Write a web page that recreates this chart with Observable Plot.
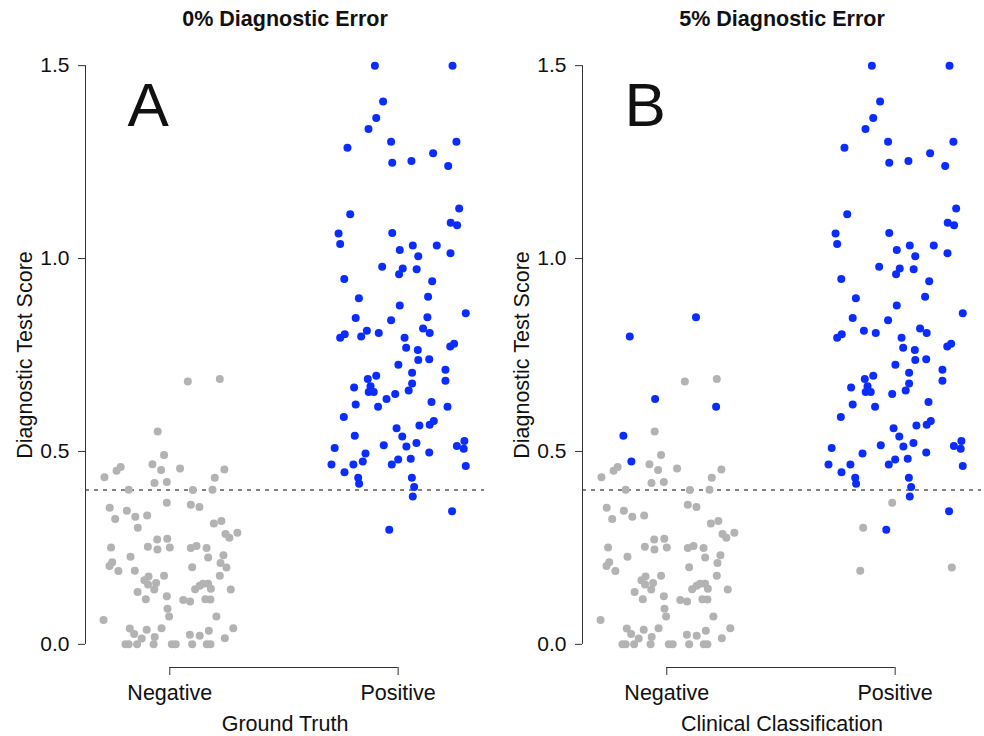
<!DOCTYPE html>
<html>
<head>
<meta charset="utf-8">
<script src="https://cdn.jsdelivr.net/npm/d3@7"></script>
<script src="https://cdn.jsdelivr.net/npm/@observablehq/plot@0.6"></script>
<style>
  body { margin: 0; background: #fff; }
  #wrap { position: relative; width: 984px; height: 736px; overflow: hidden; }
  .panel { position: absolute; top: 0; }
</style>
</head>
<body>
<div id="wrap"></div>
<script>
// ---- labels ----
const categories = ["Negative", "Positive"];
const panelTitles = ["0% Diagnostic Error", "5% Diagnostic Error"];
const panelLetters = ["A", "B"];
const xTitles = ["Ground Truth", "Clinical Classification"];
const yTitle = "Diagnostic Test Score";
const yTicks = [0, 0.5, 1.0, 1.5];
const threshold = 0.4;

// ---- ground-truth negatives: horizontal jitter (category units) and score ----
const negJitter = [0.079,0.219,-0.053,-0.025,-0.076,-0.038,0.045,0.239,-0.215,-0.233,
  -0.286,-0.067,-0.013,0.197,-0.180,0.101,0.187,-0.013,-0.263,-0.188,
  -0.151,-0.099,0.092,0.130,-0.239,-0.140,0.193,0.226,0.244,0.261,
  0.296,-0.055,-0.011,-0.257,-0.096,-0.054,0.000,0.092,0.117,0.161,
  -0.172,0.235,-0.252,-0.264,-0.225,-0.153,0.098,0.168,0.222,0.248,
  -0.025,-0.093,-0.111,-0.095,-0.060,-0.068,0.219,-0.141,-0.105,-0.013,
  0.059,0.089,0.111,0.131,0.146,0.168,0.180,0.156,0.178,0.267,
  -0.010,-0.003,-0.290,0.204,-0.175,-0.156,-0.101,-0.036,-0.123,-0.066,
  0.088,0.131,0.171,0.278,0.241,-0.194,-0.180,-0.143,-0.071,0.009,
  0.026,0.098,0.162,0.178];
const negScore = [0.681,0.688,0.552,0.491,0.467,0.452,0.456,0.453,0.460,0.450,
  0.433,0.418,0.421,0.432,0.401,0.400,0.401,0.367,0.354,0.346,
  0.331,0.334,0.362,0.356,0.325,0.302,0.313,0.320,0.286,0.276,
  0.289,0.272,0.274,0.251,0.253,0.246,0.251,0.250,0.255,0.250,
  0.227,0.231,0.213,0.203,0.190,0.191,0.200,0.225,0.211,0.199,
  0.178,0.176,0.166,0.155,0.159,0.142,0.178,0.136,0.117,0.125,
  0.115,0.111,0.143,0.152,0.157,0.157,0.144,0.117,0.116,0.142,
  0.092,0.072,0.063,0.072,0.041,0.027,0.038,0.042,0.015,0.019,
  0.025,0.022,0.035,0.042,0.016,0,0,0,0,0,
  0,0,0,0];

// ---- ground-truth positives ----
const posJitter = [-0.102,0.238,-0.066,-0.096,-0.130,-0.031,0.255,-0.222,-0.026,0.058,
  0.153,0.219,-0.210,0.267,0.230,0.258,-0.261,-0.254,-0.026,0.007,
  0.064,0.088,0.169,0.229,-0.070,0.020,0.004,0.081,-0.236,0.149,
  -0.172,0.131,0.007,0.296,-0.186,-0.031,0.128,0.109,0.138,-0.254,
  -0.234,-0.162,-0.137,-0.085,0.028,0.035,0.086,0.088,0.136,0.228,
  0.245,0.001,0.061,0.207,0.207,-0.133,-0.096,-0.121,-0.129,-0.107,
  -0.193,0.061,0.046,-0.013,-0.051,-0.186,-0.088,0.146,0.216,-0.238,
  -0.007,0.093,0.138,0.156,-0.190,0.018,-0.063,0.036,0.080,-0.278,
  -0.143,0.136,0.257,0.290,0.287,0.000,0.055,-0.155,-0.292,-0.196,
  -0.028,0.296,-0.235,-0.175,-0.171,0.060,0.070,0.064,0.236,-0.039];
const posScore = [1.5,1.5,1.407,1.364,1.336,1.303,1.303,1.287,1.248,1.253,
  1.273,1.240,1.115,1.130,1.093,1.086,1.065,1.038,1.066,1.022,
  1.034,1.006,1.034,1.014,0.979,0.974,0.959,0.972,0.947,0.941,
  0.897,0.901,0.878,0.858,0.846,0.840,0.848,0.819,0.807,0.795,
  0.804,0.798,0.813,0.807,0.795,0.769,0.763,0.737,0.739,0.772,
  0.779,0.725,0.704,0.712,0.683,0.688,0.696,0.669,0.654,0.654,
  0.666,0.676,0.658,0.649,0.636,0.622,0.616,0.628,0.616,0.589,
  0.560,0.567,0.569,0.579,0.541,0.539,0.516,0.513,0.522,0.509,
  0.495,0.497,0.514,0.527,0.507,0.479,0.481,0.474,0.466,0.466,
  0.466,0.462,0.446,0.432,0.416,0.432,0.408,0.383,0.345,0.297];

// indices of cases misclassified in the 5% panel
const negFlipped = [17, 25, 45, 49];
const posFlipped = [36, 41, 64, 68, 74, 87];

const greyCol = "#b3b3b3";
const blueCol = "#0a2cff";
const xDomain = [0.631, 2.378];
const yDomain = [-0.06, 1.56];
const font = "'Liberation Sans', Arial, Helvetica, sans-serif";

function makePanel(p) {
  const pts = [];
  negScore.forEach((s, k) => {
    const cls = (p === 1 && negFlipped.includes(k)) ? 2 : 1;
    pts.push({x: cls + negJitter[k], y: s, truth: categories[0]});
  });
  posScore.forEach((s, k) => {
    const cls = (p === 1 && posFlipped.includes(k)) ? 1 : 2;
    pts.push({x: cls + posJitter[k], y: s, truth: categories[1]});
  });
  return Plot.plot({
    width: 487, height: 736,
    marginLeft: 85, marginRight: 3, marginTop: 42, marginBottom: 69,
    x: {type: "linear", domain: xDomain, axis: null},
    y: {type: "linear", domain: yDomain, axis: null},
    color: {domain: categories, range: [greyCol, blueCol]},
    style: {fontFamily: font, background: "white", color: "#111", overflow: "visible"},
    marks: [
      Plot.ruleY([threshold], {stroke: "#5a5a5a", strokeWidth: 1.5, strokeDasharray: "4,5"}),
      Plot.dot(pts, {x: "x", y: "y", r: 4, fill: "truth", stroke: null}),
      // y axis
      Plot.ruleX([xDomain[0]], {y1: yTicks[0], y2: yTicks[yTicks.length - 1], stroke: "#333"}),
      Plot.axisY({ticks: yTicks, tickSize: 7, tickPadding: 9, tickFormat: d3.format(".1f"),
        fontSize: 21, stroke: "#333", label: null}),
      // x axis
      Plot.ruleY([yDomain[0]], {x1: 1, x2: 2, stroke: "#333"}),
      Plot.axisX({ticks: [1, 2], tickSize: 8, tickPadding: 9, tickFormat: d => categories[d - 1],
        fontSize: 21.5, stroke: "#333", label: null, anchor: "bottom"}),
      // axis titles
      Plot.text([xTitles[p]], {frameAnchor: "bottom", dy: 57, fontSize: 21.5, lineAnchor: "middle"}),
      Plot.text([yTitle], {frameAnchor: "left", dx: -60, rotate: -90, fontSize: 21.5,
        textAnchor: "middle", lineAnchor: "middle"}),
      // panel title
      Plot.text([panelTitles[p]], {frameAnchor: "top", dy: -23, fontSize: 21.5, fontWeight: "bold", lineAnchor: "middle"}),
      // panel letter
      Plot.text([panelLetters[p]], {frameAnchor: "top-left", dx: 42, dy: 39, fontSize: 62,
        textAnchor: "start", lineAnchor: "top"})
    ]
  });
}

const wrap = document.getElementById("wrap");
[0, 1].forEach(p => {
  const div = document.createElement("div");
  div.className = "panel";
  div.style.left = (p === 0 ? 0 : 497) + "px";
  div.appendChild(makePanel(p));
  wrap.appendChild(div);
});
</script>
</body>
</html>
